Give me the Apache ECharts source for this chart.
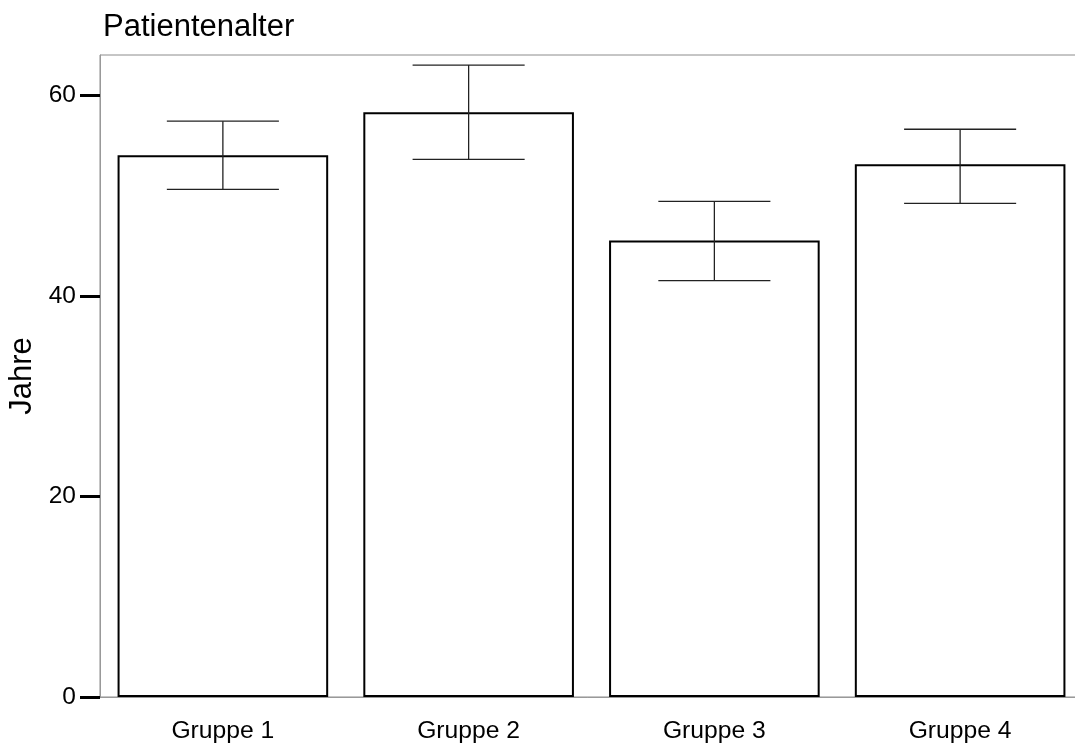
<!DOCTYPE html>
<html>
<head>
<meta charset="utf-8">
<script src="https://cdn.jsdelivr.net/npm/echarts@6/dist/echarts.min.js"></script>
<style>html,body{margin:0;padding:0;background:#fff;}#c{width:1075px;height:747px;}</style>
</head>
<body>
<div id="c"></div>
<script>
var categories = ['Gruppe 1', 'Gruppe 2', 'Gruppe 3', 'Gruppe 4'];
var means = [54.0, 58.3, 45.5, 53.1];
var errLow = [50.6, 53.6, 41.5, 49.2];
var errHigh = [57.4, 63.0, 49.4, 56.6];
var yTicks = [0, 20, 40, 60];

var chart = echarts.init(document.getElementById('c'));
var font = 'Liberation Sans, Arial, sans-serif';
var errData = categories.map(function (c, i) { return [i, errLow[i], errHigh[i]]; });

chart.setOption({
  animation: false,
  backgroundColor: '#fff',
  title: {
    text: 'Patientenalter',
    left: 98, top: 7,
    textStyle: { fontFamily: font, fontSize: 31, fontWeight: 'normal', color: '#000' }
  },
  grid: {
    left: 100, top: 55, width: 983, height: 642,
    outerBoundsMode: 'none',
    show: true, borderColor: '#8c8c8c', borderWidth: 1, backgroundColor: '#fff'
  },
  xAxis: {
    type: 'category',
    data: categories,
    axisLine: { lineStyle: { color: '#999', width: 1 } },
    axisTick: { alignWithLabel: true, length: 13, lineStyle: { color: '#000', width: 3 } },
    axisLabel: { margin: 22, fontFamily: font, fontSize: 24.7, color: '#000' },
    splitLine: { show: false }
  },
  yAxis: {
    type: 'value',
    min: 0, max: 64, interval: 20,
    name: 'Jahre',
    nameLocation: 'middle',
    nameGap: 60,
    nameTextStyle: { fontFamily: font, fontSize: 31, color: '#000' },
    axisLine: { show: true, lineStyle: { color: '#999', width: 1 } },
    axisTick: { show: true, length: 20, customValues: yTicks, lineStyle: { color: '#000', width: 3 } },
    axisLabel: { margin: 24, fontFamily: font, fontSize: 24.5, color: '#000', customValues: yTicks },
    splitLine: { show: false }
  },
  series: [
    {
      type: 'bar',
      data: means,
      barWidth: '85.7%',
      itemStyle: { color: '#fff', borderColor: '#000', borderWidth: 2 },
      z: 2
    },
    {
      type: 'custom',
      data: errData,
      z: 5,
      renderItem: function (params, api) {
        var i = api.value(0);
        var lo = api.coord([i, api.value(1)]);
        var hi = api.coord([i, api.value(2)]);
        var half = api.size([1, 0])[0] * 0.228;
        var st = { stroke: '#222', lineWidth: 1.3 };
        return {
          type: 'group',
          children: [
            { type: 'line', shape: { x1: hi[0], y1: hi[1], x2: lo[0], y2: lo[1] }, style: st },
            { type: 'line', shape: { x1: hi[0] - half, y1: hi[1], x2: hi[0] + half, y2: hi[1] }, style: st },
            { type: 'line', shape: { x1: lo[0] - half, y1: lo[1], x2: lo[0] + half, y2: lo[1] }, style: st }
          ]
        };
      }
    }
  ]
});
</script>
</body>
</html>
